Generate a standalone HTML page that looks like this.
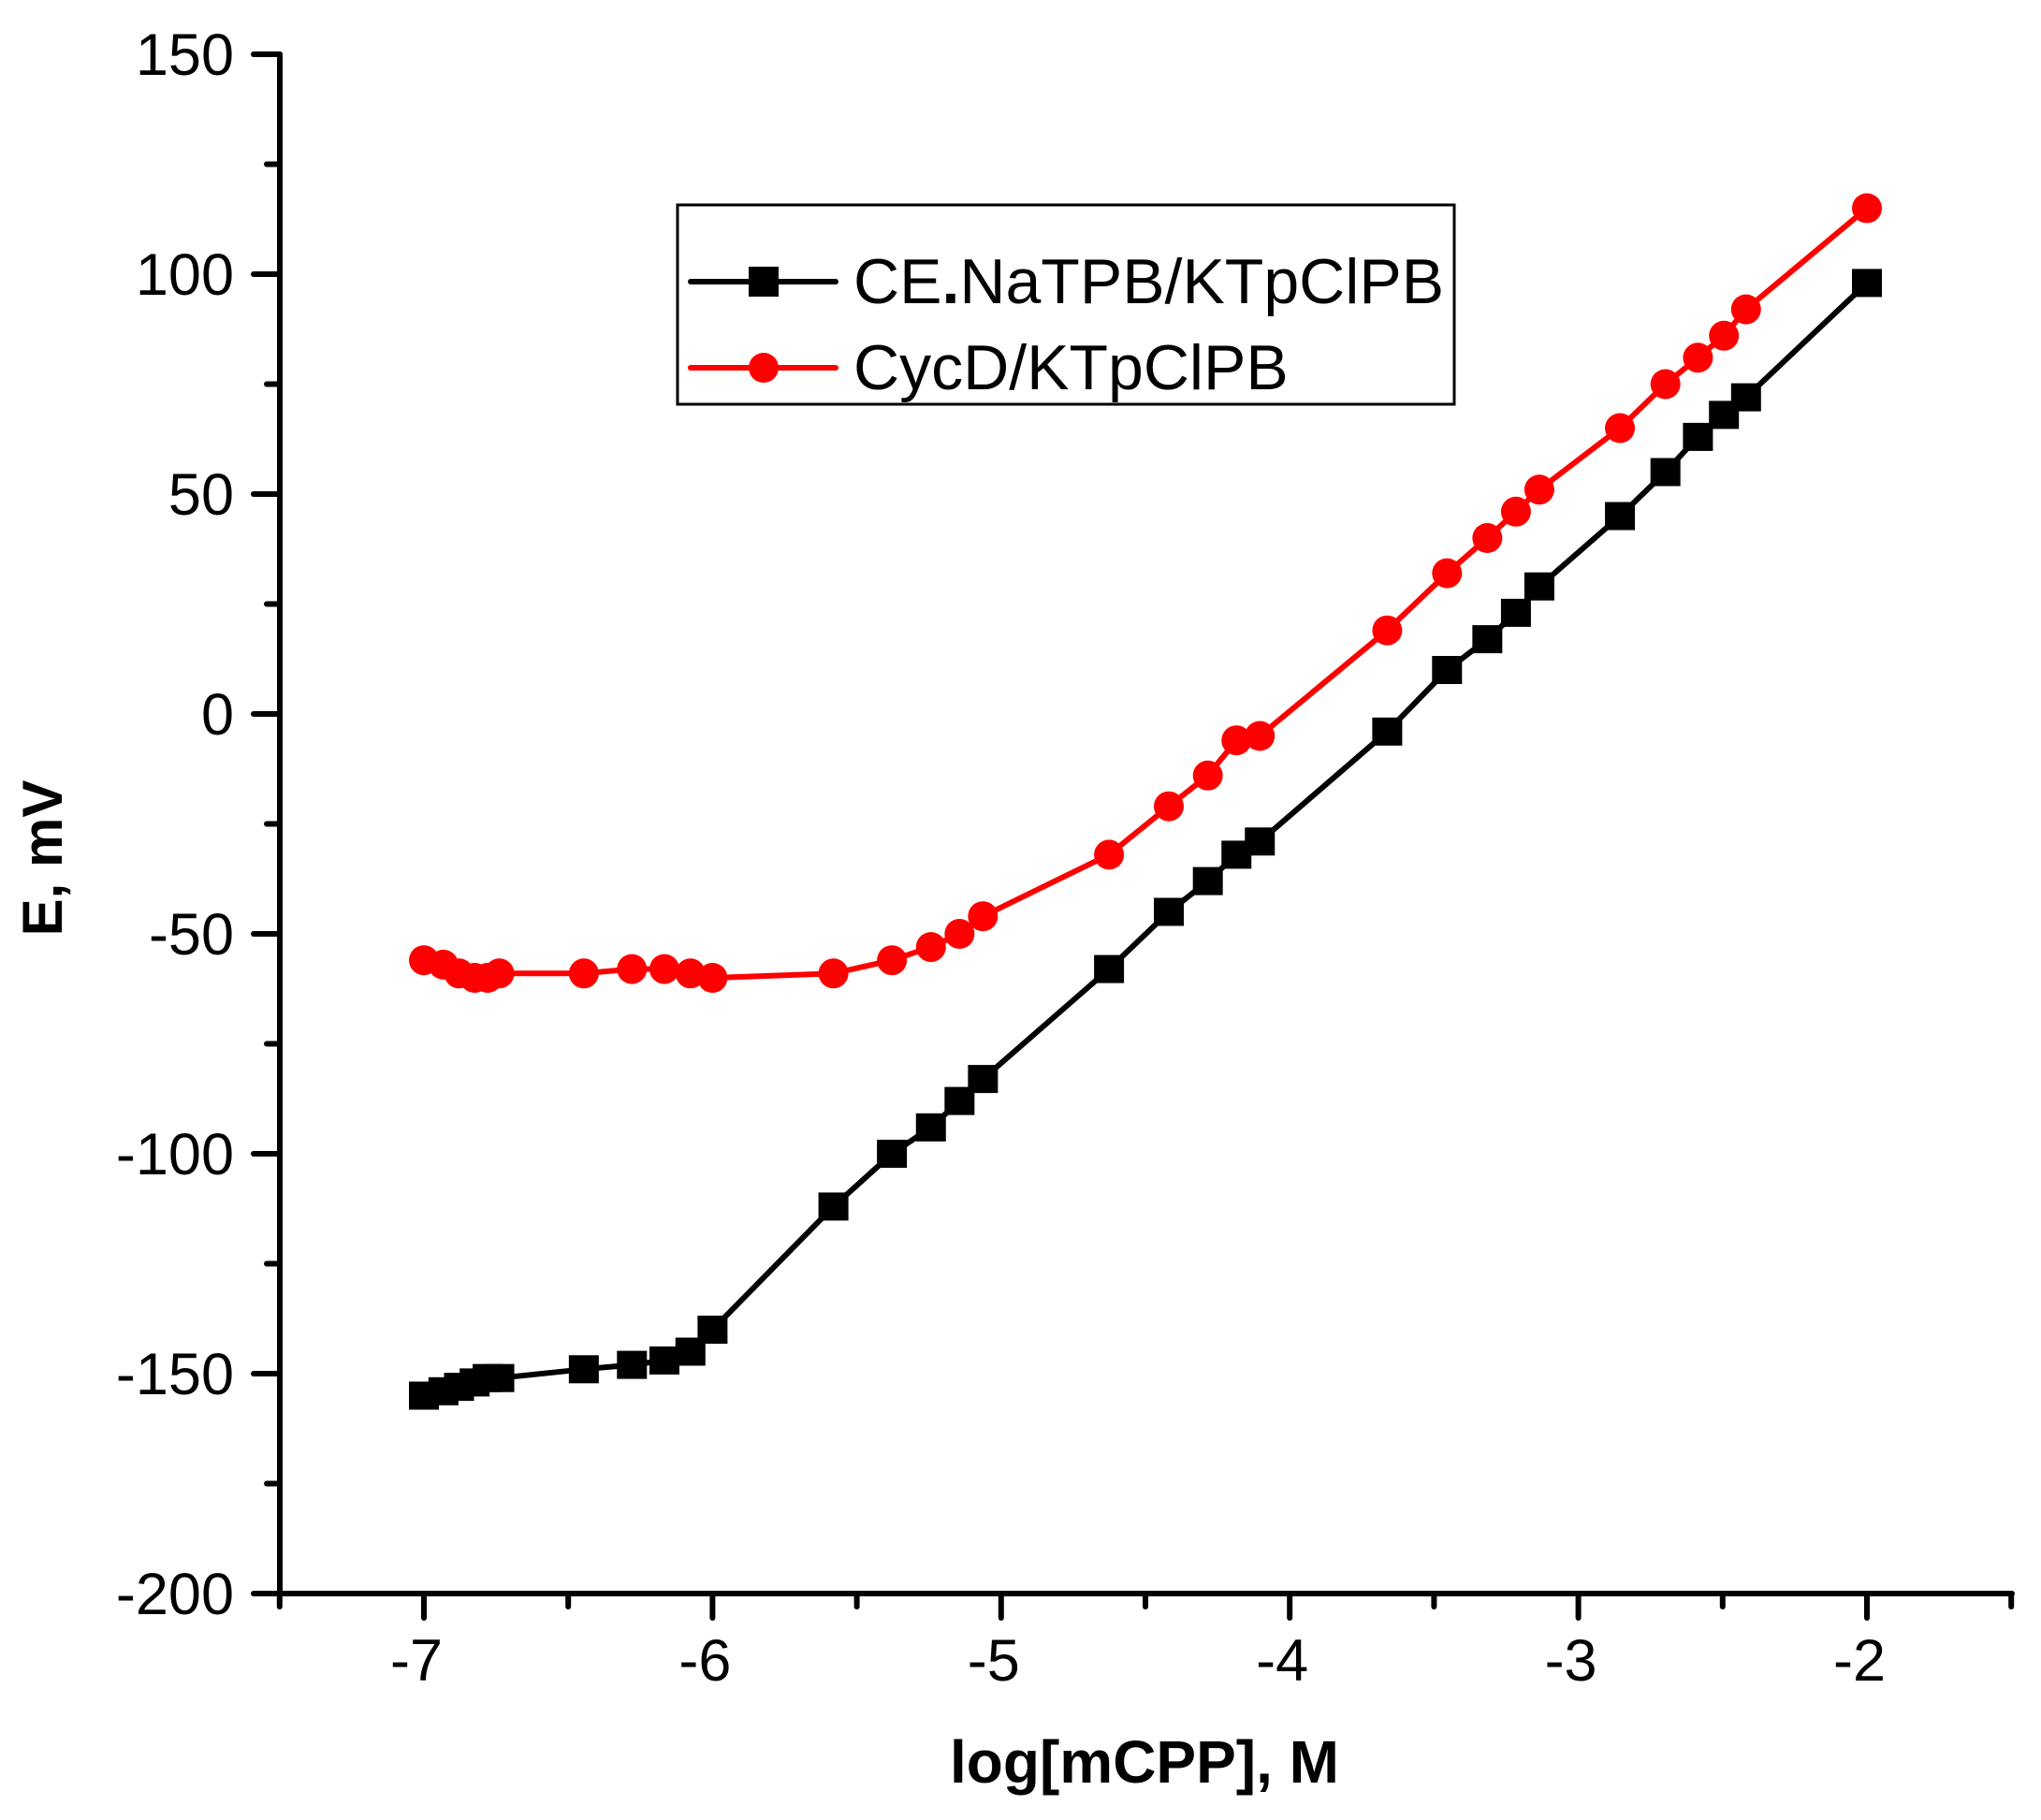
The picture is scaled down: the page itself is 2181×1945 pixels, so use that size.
<!DOCTYPE html>
<html><head><meta charset="utf-8"><style>
html,body{margin:0;padding:0;background:#fff;}
svg{display:block;}
text{font-family:"Liberation Sans",Arial,sans-serif;}
</style></head><body>
<svg id="s" width="2181" height="1945" viewBox="0 0 2181 1945" xmlns="http://www.w3.org/2000/svg">
<rect width="2181" height="1945" fill="#fff"/>
<g id="axes" stroke="#000" stroke-width="6" stroke-linecap="round" fill="none"></g>
<g id="labels" font-size="63" fill="#000"></g>
<g id="data"></g>
<text x="1223" y="1905" font-size="64" font-weight="bold" text-anchor="middle">log[mCPP], M</text>
<text transform="translate(66,917) rotate(-90)" font-size="60" font-weight="bold" text-anchor="middle">E, mV</text>
<rect x="724" y="219" width="830" height="213" fill="none" stroke="#000" stroke-width="3"/>
<line x1="738" y1="301" x2="893" y2="301" stroke="#000" stroke-width="6" stroke-linecap="round"/>
<rect x="800" y="285" width="32" height="32" fill="#000"/>
<line x1="738" y1="393" x2="893" y2="393" stroke="#f00" stroke-width="6" stroke-linecap="round"/>
<circle cx="816" cy="393" r="16" fill="#f00"/>
<text x="912" y="324" font-size="68">CE<tspan font-weight="bold">.</tspan>NaTPB/KTpClPB</text>
<text x="912" y="416" font-size="68">CycD/KTpClPB</text>
</svg>
<script>
var NS="http://www.w3.org/2000/svg";
function X(v){return 453+(v+7)*308.4;}
function Y(v){return 58+(150-v)*4.7;}
function el(p,t,a,txt){var e=document.createElementNS(NS,t);for(var k in a)e.setAttribute(k,a[k]);if(txt!==undefined)e.textContent=txt;p.appendChild(e);return e;}
var ax=document.getElementById('axes'),lb=document.getElementById('labels'),d=document.getElementById('data');
el(ax,'line',{x1:299,y1:58,x2:299,y2:1703});
el(ax,'line',{x1:299,y1:1703,x2:2150,y2:1703});
for(var v=-200;v<=150;v+=25){var y=Y(v);var maj=(v%50===0);el(ax,'line',{x1:maj?271:285,y1:y,x2:299,y2:y});
 if(maj)el(lb,'text',{x:250,y:y+22,'text-anchor':'end'},String(v));}
for(var i=0;i<=12;i++){var v2=-7.5+i*0.5;var x=X(v2);var maj=(Math.abs(v2-Math.round(v2))<0.01);
 el(ax,'line',{x1:x,y1:1703,x2:x,y2:maj?1729:1717});
 if(maj)el(lb,'text',{x:x-8,y:1796,'text-anchor':'middle'},String(v2));}
var px=[325,340,352,364,374,383,448,485,510,530,547,640,685,715,737,755,852,898,928,950,968,1066,1112,1143,1165,1183,1245,1280,1305,1325,1342,1435];
var bk=[-155,-154,-153,-152,-151,-151,-149,-148,-147,-145,-140,-112,-100,-94,-88,-83,-58,-45,-38,-32,-29,-4,10,17,23,29,45,55,63,68,72,98];
var rd=[-56,-57,-59,-60,-60,-59,-59,-58,-58,-59,-60,-59,-56,-53,-50,-46,-32,-21,-14,-6,-5,19,32,40,46,51,65,75,81,86,92,115];
function xv(p){return -7+(p-325)/222;}
function ser(vals,col,sq){var pts=px.map(function(p,i){return X(xv(p))+','+Y(vals[i]);}).join(' ');
 el(d,'polyline',{points:pts,fill:'none',stroke:col,'stroke-width':6,'stroke-linejoin':'round'});
 px.forEach(function(p,i){var x=X(xv(p)),y=Y(vals[i]);
  if(sq)el(d,'rect',{x:x-16,y:y-15,width:32,height:30,fill:col});else el(d,'circle',{cx:x,cy:y,r:16,fill:col});});}
ser(rd,'#f00',false);
ser(bk,'#000',true);
</script>
</body></html>
